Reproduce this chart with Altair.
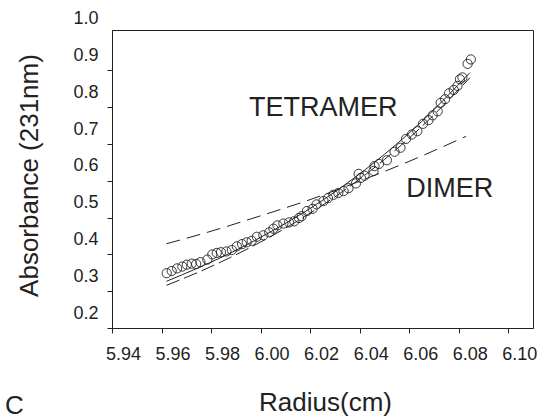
import altair as alt
import pandas as pd

# Measured absorbance profile (radius in cm, absorbance at 231 nm)
radius = [5.9621, 5.9641, 5.9663, 5.9684, 5.9702, 5.9722, 5.9740, 5.9757, 5.9785, 5.9805,
          5.9823, 5.9840, 5.9862, 5.9884, 5.9904, 5.9925, 5.9944, 5.9964, 5.9985, 6.0011,
          6.0035, 6.0052, 6.0068, 6.0092, 6.0115, 6.0136, 6.0155, 6.0166, 6.0187, 6.0210,
          6.0226, 6.0254, 6.0272, 6.0294, 6.0314, 6.0335, 6.0355, 6.0385, 6.0396, 6.0405,
          6.0420, 6.0456, 6.0460, 6.0478, 6.0510, 6.0541, 6.0565, 6.0587, 6.0611, 6.0633,
          6.0656, 6.0678, 6.0695, 6.0715, 6.0727, 6.0745, 6.0761, 6.0780, 6.0795, 6.0805,
          6.0815, 6.0836, 6.0849]
absorbance = [0.349, 0.355, 0.362, 0.367, 0.372, 0.375, 0.374, 0.379, 0.386, 0.400,
              0.404, 0.406, 0.408, 0.412, 0.422, 0.428, 0.433, 0.437, 0.448, 0.452,
              0.460, 0.470, 0.479, 0.484, 0.487, 0.490, 0.499, 0.504, 0.518, 0.524,
              0.536, 0.545, 0.553, 0.562, 0.567, 0.572, 0.580, 0.593, 0.619, 0.608,
              0.614, 0.627, 0.640, 0.646, 0.656, 0.679, 0.690, 0.714, 0.726, 0.735,
              0.755, 0.765, 0.778, 0.789, 0.812, 0.822, 0.838, 0.847, 0.858, 0.876,
              0.881, 0.918, 0.930]

# Model curves
tet_r = [5.962, 5.975, 5.990, 6.005, 6.020, 6.035, 6.050, 6.065, 6.0845]
tet_a = [0.327, 0.364, 0.411, 0.465, 0.525, 0.594, 0.672, 0.761, 0.894]

alt_r = [5.962, 5.975, 5.990, 6.005, 6.020, 6.035, 6.050, 6.065, 6.0845]
alt_a = [0.316, 0.352, 0.399, 0.452, 0.512, 0.580, 0.658, 0.747, 0.880]

dim_r = [5.962, 5.980, 6.000, 6.020, 6.040, 6.060, 6.083]
dim_a = [0.429, 0.463, 0.505, 0.549, 0.599, 0.653, 0.721]

# Curve labels
lab_text = ["TETRAMER", "DIMER"]
lab_r = [6.0253, 6.0764]
lab_a = [0.776, 0.5556]

x_ticks = [5.94, 5.96, 5.98, 6.00, 6.02, 6.04, 6.06, 6.08, 6.10]
y_ticks = [0.2, 0.3, 0.4, 0.5, 0.6, 0.7, 0.8, 0.9, 1.0]

FONT = "Liberation Sans"
INK = "#222222"

pts = pd.DataFrame({"r": radius, "a": absorbance})
tet = pd.DataFrame({"r": tet_r, "a": tet_a})
alt_df = pd.DataFrame({"r": alt_r, "a": alt_a})
dim = pd.DataFrame({"r": dim_r, "a": dim_a})
labs = pd.DataFrame({"t": lab_text, "r": lab_r, "a": lab_a})

xscale = alt.Scale(domain=[5.94, 6.11], nice=False, zero=False)
yscale = alt.Scale(domain=[0.2, 1.01], nice=False, zero=False)

xaxis = alt.Axis(
    title="Radius(cm)", values=x_ticks, format=".2f", grid=False,
    labelFont=FONT, labelFontSize=18, labelColor=INK, labelOffset=11, labelPadding=12,
    tickSize=5, tickColor=INK, domainColor=INK,
    titleFont=FONT, titleFontSize=26, titleFontWeight="normal", titleColor=INK,
    titleBaseline="alphabetic", titleY=82, titleX=213, titleAnchor="middle",
    labelFlush=False, labelOverlap=False,
)
yaxis = alt.Axis(
    title="Absorbance (231nm)", values=y_ticks, format=".1f", grid=False,
    labelFont=FONT, labelFontSize=18, labelColor=INK, labelOffset=-15, labelPadding=9,
    tickSize=5, tickColor={"condition": {"test": "datum.value > 0.95", "value": "transparent"}, "value": INK},
    domainColor=INK,
    titleFont=FONT, titleFontSize=26, titleFontWeight="normal", titleColor=INK,
    titleBaseline="alphabetic", titleX=-75, titleY=145, titleAlign="center",
    labelFlush=False, labelOverlap=False,
)

X = alt.X("r:Q", scale=xscale, axis=xaxis)
Y = alt.Y("a:Q", scale=yscale, axis=yaxis)

points = alt.Chart(pts).mark_point(
    shape="circle", filled=False, size=85, strokeWidth=0.9, color=INK, opacity=1
).encode(x=X, y=Y)

tet_line = alt.Chart(tet).mark_line(color=INK, strokeWidth=1, interpolate="monotone").encode(x=X, y=Y)
alt_line = alt.Chart(alt_df).mark_line(
    color=INK, strokeWidth=1, strokeDash=[14, 5], interpolate="monotone"
).encode(x=X, y=Y)
dim_line = alt.Chart(dim).mark_line(
    color=INK, strokeWidth=1, strokeDash=[14, 7], interpolate="monotone"
).encode(x=X, y=Y)

labels = alt.Chart(labs).mark_text(
    font=FONT, fontSize=27, color=INK, align="center", baseline="alphabetic"
).encode(x=X, y=Y, text="t:N")

# Panel letter in the lower-left corner
panel = alt.Chart(pd.DataFrame({"t": ["C"]})).mark_text(
    font=FONT, fontSize=26, color=INK, align="left", baseline="alphabetic"
).encode(x=alt.value(-107), y=alt.value(384), text="t:N")

chart = alt.layer(dim_line, alt_line, tet_line, points, labels, panel).properties(
    width=421, height=298,
    padding={"left": 112, "top": 30, "right": 7, "bottom": 92},
    autosize=alt.AutoSizeParams(type="none"),
    background="white",
).configure_view(stroke=INK, strokeWidth=1)

chart.save("out.html", embed_options={"renderer": "svg", "actions": False})
